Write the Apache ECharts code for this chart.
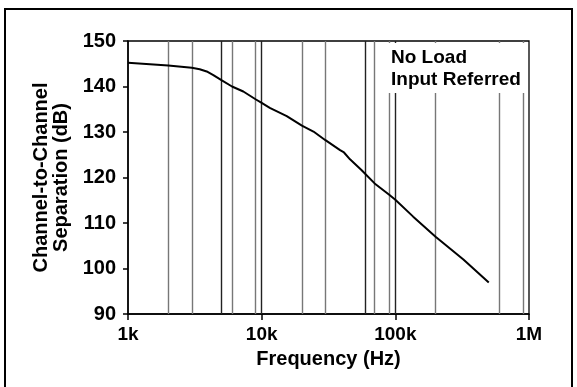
<!DOCTYPE html>
<html>
<head>
<meta charset="utf-8">
<script src="https://cdn.jsdelivr.net/npm/echarts@6/dist/echarts.min.js"></script>
<style>
html,body{margin:0;padding:0;background:#fff;}
#c{width:577px;height:387px;}
</style>
</head>
<body>
<div id="c"></div>
<script>
// Curve data: frequency (Hz) and separation (dB)
var freqs = [1000, 2000, 3000, 3440, 3880, 4350, 5000, 6000, 7290, 9000, 10000, 11500, 15400, 20000, 24400, 30000, 38600, 41300, 45800, 56000, 70000, 90000, 100000, 136000, 200000, 323000, 500000];
var separation = [145.2, 144.6, 144.1, 143.8, 143.3, 142.5, 141.4, 140.0, 138.9, 137.2, 136.4, 135.3, 133.5, 131.4, 130.1, 128.2, 126.0, 125.5, 124.0, 121.6, 118.7, 116.2, 115.1, 111.4, 107.0, 102.0, 96.9];
// Vertical grid lines (Hz) and whether they are dark
var gridFreqs = [2000, 3000, 5000, 6000, 9000, 10000, 20000, 30000, 60000, 70000, 90000, 100000, 200000, 600000, 900000];
var gridDark  = [false, false, true, false, false, true, false, false, true, false, false, true, false, false, false];
// Axis tick labels
var xTickValues = [1000, 10000, 100000, 1000000];
var xTickLabels = ['1k', '10k', '100k', '1M'];
var yMin = 90, yMax = 150, yStep = 10;
var legendLines = ['No Load', 'Input Referred'];
var xTitle = 'Frequency (Hz)';
var yTitle = 'Channel-to-Channel\nSeparation (dB)';

var FONT = 'Liberation Sans';
var chart = echarts.init(document.getElementById('c'), null, {renderer: 'canvas'});

var lineData = freqs.map(function (f, i) { return [f, separation[i]]; });
var gridMarks = gridFreqs.map(function (f, i) {
  return {xAxis: f, lineStyle: {color: gridDark[i] ? '#222' : '#777', width: 1.4, type: 'solid'}};
});

chart.setOption({
  animation: false,
  backgroundColor: '#fff',
  grid: {left: 128, right: 48, top: 41, bottom: 73, show: true, borderColor: '#000', borderWidth: 1.3, backgroundColor: 'transparent'},
  xAxis: {
    type: 'log', logBase: 10, min: 1000, max: 1000000,
    name: xTitle, nameLocation: 'middle', nameGap: 35,
    nameTextStyle: {fontFamily: FONT, fontWeight: 'bold', fontSize: 20, color: '#000'},
    axisLine: {show: true, lineStyle: {color: '#000', width: 1.5}},
    axisTick: {show: true, length: 6, lineStyle: {color: '#000', width: 1.5}},
    minorTick: {show: false},
    splitLine: {show: false},
    axisLabel: {
      margin: 11, fontFamily: FONT, fontWeight: 'bold', fontSize: 19, color: '#000',
      formatter: function (v) {
        for (var i = 0; i < xTickValues.length; i++) {
          if (Math.abs(v - xTickValues[i]) / xTickValues[i] < 1e-6) return xTickLabels[i];
        }
        return '';
      }
    }
  },
  yAxis: {
    type: 'value', min: yMin, max: yMax, interval: yStep,
    name: yTitle, nameLocation: 'middle', nameGap: 56, nameRotate: 90,
    nameTextStyle: {fontFamily: FONT, fontWeight: 'bold', fontSize: 20, color: '#000', lineHeight: 20},
    axisLine: {show: true, lineStyle: {color: '#000', width: 1.5}},
    axisTick: {show: true, length: 5, lineStyle: {color: '#000', width: 1.5}},
    splitLine: {show: false},
    axisLabel: {margin: 12, fontFamily: FONT, fontWeight: 'bold', fontSize: 20, color: '#000'}
  },
  series: [
    {
      type: 'line', data: [], z: 1, silent: true,
      markLine: {silent: true, symbol: ['none', 'none'], label: {show: false}, data: gridMarks, animation: false}
    },
    {
      type: 'line', data: lineData, z: 5, showSymbol: false, smooth: false,
      lineStyle: {color: '#000', width: 2}
    }
  ],
  graphic: [
    {type: 'rect', x: 5, y: 9, shape: {width: 567, height: 430}, style: {fill: 'none', stroke: '#000', lineWidth: 2}, z: 50, silent: true},
    {type: 'rect', x: 388, y: 43, shape: {width: 138, height: 50}, style: {fill: '#fff'}, z: 60, silent: true},
    {type: 'text', x: 391, y: 47, z: 61, style: {text: legendLines.join('\n'), fill: '#000', font: 'bold 19px "Liberation Sans"', lineHeight: 22}}
  ]
});
</script>
</body>
</html>
